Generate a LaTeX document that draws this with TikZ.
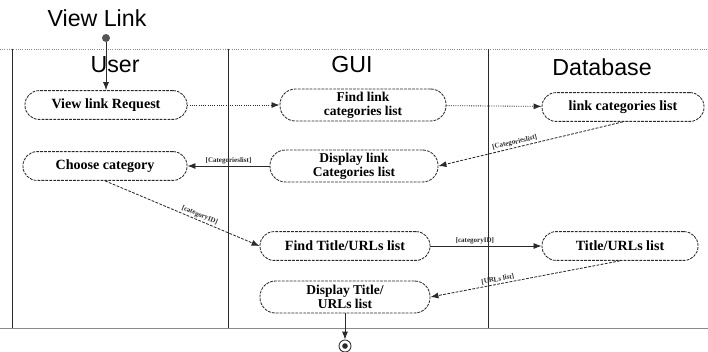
\documentclass[tikz,border=0pt]{standalone}
\usepackage{fontspec}
\setmainfont{Liberation Serif}
\newfontfamily\kopfschrift{Liberation Sans}
\usetikzlibrary{arrows.meta}
\definecolor{linie}{HTML}{2A2A2A}
\definecolor{rahmen}{HTML}{8A8A8A}
\definecolor{punkt}{HTML}{555555}
\tikzset{
  akt/.style={draw=linie,dash pattern=on 2pt off 0.8pt,line width=0.6pt,rounded corners=10pt,minimum height=0.72cm,align=center,inner sep=0.5pt,font=\bfseries\fontsize{10}{10.5}\selectfont},
  akt2/.style={akt,minimum height=0.8cm,rounded corners=11pt,font=\bfseries\fontsize{9.6}{10}\selectfont},
  pf/.style={-{Latex[length=2mm,width=1.5mm]},linie,line width=0.6pt},
  pfd/.style={pf,dash pattern=on 2pt off 1pt},
  pfp/.style={pf,densely dotted},
  bahn/.style={linie,line width=0.6pt},
  kopf/.style={font=\kopfschrift\fontsize{16.5}{18}\selectfont},
  wache/.style={font=\bfseries\fontsize{5}{6}\selectfont,inner sep=1pt},
}
\begin{document}
\begin{tikzpicture}[x=0.025cm,y=-0.025cm]
  \useasboundingbox (0,0) rectangle (708,351);
  \draw[bahn,rahmen,densely dotted] (0,49)--(708,49);
  \draw[bahn] (12,49)--(12,328);
  \draw[bahn] (228,49)--(228,328);
  \draw[bahn] (488,49)--(488,328);
  \draw[bahn,rahmen] (0,328)--(708,328);
  \node[kopf] (titel) at (97,18) {View Link};
  \node[kopf] (user) at (115,65) {User};
  \node[kopf] (gui) at (352,65) {GUI};
  \node[kopf] (db) at (602,67) {Database};
  \node[circle,fill=punkt,inner sep=0pt,minimum size=0.2cm] (start) at (106,38) {};
  \node[akt,minimum width=4.05cm] (anfrage) at (106,105) {View link Request};
  \node[akt2,minimum width=4.15cm] (suchkat) at (363,105) {Find link\\categories list};
  \node[akt,minimum width=4.05cm] (dbkat) at (623,107) {link categories list};
  \node[akt,minimum width=4.1cm] (wahl) at (105,166) {Choose category};
  \node[akt2,minimum width=4.2cm] (zeigkat) at (354,166) {Display link\\Categories list};
  \node[akt,minimum width=4.25cm] (suchurl) at (345,246) {Find Title/URLs list};
  \node[akt,minimum width=3.9cm] (dburl) at (620,246) {Title/URLs list};
  \node[akt2,minimum width=4.25cm] (zeigurl) at (345,297) {Display Title/\\URLs list};
  \node[circle,draw=linie,line width=0.6pt,inner sep=0pt,minimum size=0.3cm] (ende) at (345,346) {};
  \fill[linie] (ende) circle (0.07cm);
  \draw[pf] (start)--(anfrage);
  \draw[pfp] (anfrage)--(suchkat);
  \draw[pfp] (suchkat)--(dbkat);
  \draw[pfd] (dbkat.south)--(zeigkat.east) node[wache,sloped,above,pos=0.58]{[Categorieslist]};
  \draw[pf] (zeigkat)--(wahl) node[wache,midway,above]{[Categorieslist]};
  \draw[pfd] (wahl.south)--(suchurl.west) node[wache,sloped,above,pos=0.6]{[categoryID]};
  \draw[pf] (suchurl)--(dburl) node[wache,above,pos=0.4]{[categoryID]};
  \draw[pfd] (dburl.south)--(zeigurl.east) node[wache,sloped,above,pos=0.64]{[URLs list]};
  \draw[pf] (zeigurl)--(ende);
\end{tikzpicture}
\end{document}
